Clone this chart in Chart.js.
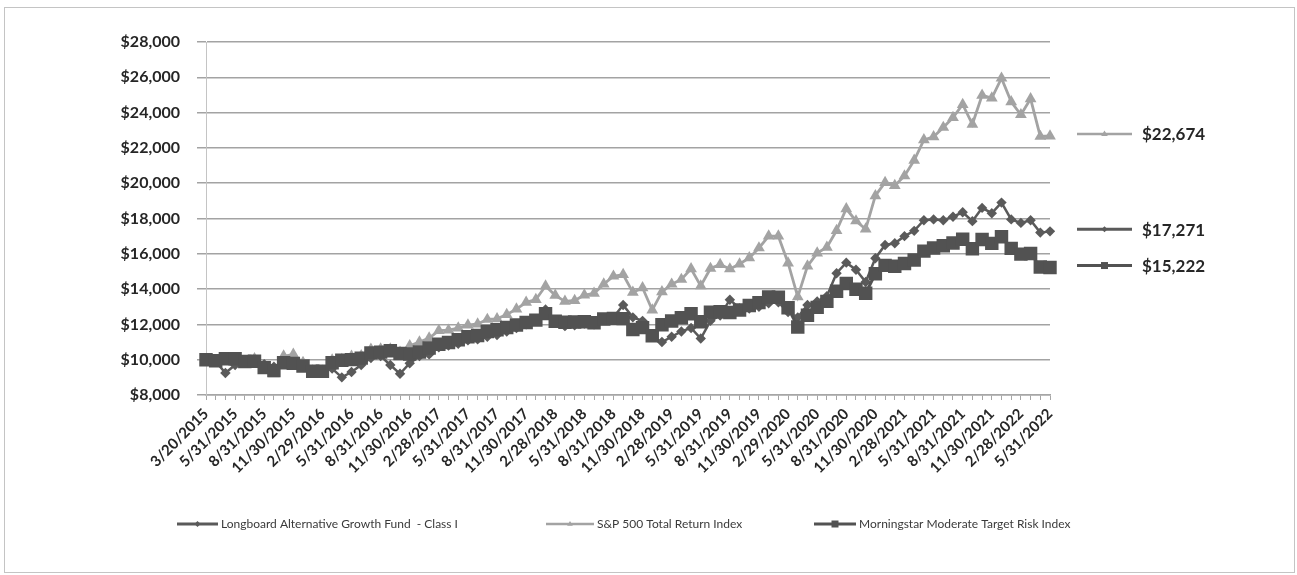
<!DOCTYPE html>
<html><head><meta charset="utf-8">
<script src="https://cdn.jsdelivr.net/npm/chart.js@4.4.1/dist/chart.umd.min.js"></script>
<style>
html,body{margin:0;padding:0;background:#fff;}
#wrap{position:relative;width:1297px;height:575px;overflow:hidden;}
#frame{position:absolute;left:4px;top:7px;width:1291px;height:566px;border:1px solid #c4c4c4;box-sizing:border-box;}
#c{position:absolute;left:0;top:0;}
</style></head><body>
<div id="wrap"><div id="frame"></div><canvas id="c" width="1297" height="575"></canvas></div>
<script>
const categories = [
"3/20/2015","3/31/2015","4/30/2015","5/31/2015","6/30/2015","7/31/2015","8/31/2015","9/30/2015","10/31/2015","11/30/2015","12/31/2015",
"1/31/2016","2/29/2016","3/31/2016","4/30/2016","5/31/2016","6/30/2016","7/31/2016","8/31/2016","9/30/2016","10/31/2016","11/30/2016","12/31/2016",
"1/31/2017","2/28/2017","3/31/2017","4/30/2017","5/31/2017","6/30/2017","7/31/2017","8/31/2017","9/30/2017","10/31/2017","11/30/2017","12/31/2017",
"1/31/2018","2/28/2018","3/31/2018","4/30/2018","5/31/2018","6/30/2018","7/31/2018","8/31/2018","9/30/2018","10/31/2018","11/30/2018","12/31/2018",
"1/31/2019","2/28/2019","3/31/2019","4/30/2019","5/31/2019","6/30/2019","7/31/2019","8/31/2019","9/30/2019","10/31/2019","11/30/2019","12/31/2019",
"1/31/2020","2/29/2020","3/31/2020","4/30/2020","5/31/2020","6/30/2020","7/31/2020","8/31/2020","9/30/2020","10/31/2020","11/30/2020","12/31/2020",
"1/31/2021","2/28/2021","3/31/2021","4/30/2021","5/31/2021","6/30/2021","7/31/2021","8/31/2021","9/30/2021","10/31/2021","11/30/2021","12/31/2021",
"1/31/2022","2/28/2022","3/31/2022","4/30/2022","5/31/2022"
];

const seriesNames = [
"Longboard Alternative Growth Fund  - Class I",
"S&P 500 Total Return Index",
"Morningstar Moderate Target Risk Index"
];

const longboardValues = [
10000,9900,9250,9700,9850,10000,9750,9600,9900,10000,9700,
9400,9350,9500,9000,9300,9700,10100,10200,9700,9200,9800,10200,
10300,10700,10800,10900,11100,11150,11300,11400,11600,11800,12000,12200,
12850,12100,11900,11950,12050,12000,12300,12400,13100,12400,12200,11300,
11000,11300,11600,11800,11200,12200,12500,13400,12900,12900,13000,13200,
13250,12700,12400,13100,13300,13600,14900,15500,15100,14400,15750,16500,
16600,17000,17300,17900,17950,17900,18100,18350,17850,18600,18300,18900,
17950,17750,17900,17200,17271
];

const sp500Values = [
10000,9810,9910,10030,9835,10050,9430,9200,10200,10300,9842,
9360,9340,9977,10012,10187,10216,10592,10598,10604,10418,10787,11004,
11222,11652,11670,11795,11957,12023,12280,12313,12560,12863,13253,13408,
14174,13648,13305,13353,13666,13758,14281,14731,14819,13817,14075,12809,
13840,14277,14546,15149,14178,15170,15395,15143,15421,15767,16331,17000,
17000,15480,13560,15300,16040,16370,17320,18550,17860,17400,19290,20040,
19860,20410,21300,22460,22630,23160,23720,24460,23340,24980,24820,25950,
24610,23880,24780,22650,22674
];

const morningstarValues = [
10000,9943,10056,10049,9901,9915,9551,9382,9826,9790,9646,
9349,9343,9823,9964,10006,10089,10387,10430,10506,10352,10324,10440,
10664,10880,10971,11128,11299,11369,11600,11697,11825,11967,12111,12244,
12611,12183,12121,12134,12146,12097,12303,12340,12327,11711,11816,11356,
11981,12196,12379,12602,12148,12695,12720,12669,12821,13066,13235,13552,
13539,12943,11850,12515,12966,13303,13875,14319,13989,13765,14867,15343,
15297,15450,15651,16152,16329,16460,16608,16824,16286,16807,16589,16971,
16309,15983,16015,15250,15222
];

const endLabels = ["$17,271", "$22,674", "$15,222"];
const yTicks = { min: 8000, max: 28000, step: 2000 };

const colors = ['#5a5a5a', '#a3a3a3', '#525252'];
const styles = ['rectRot', 'triangle', 'rect'];
const radii = [5.2, 6.8, 9.5];
const lineW = [2.5, 2.8, 3];
const allValues = [longboardValues, sp500Values, morningstarValues];

function drawMarker(ctx, style, x, y, r, color) {
  ctx.save();
  ctx.fillStyle = color;
  ctx.beginPath();
  if (style === 'rect') {
    ctx.rect(x - r, y - r, 2 * r, 2 * r);
  } else if (style === 'rectRot') {
    ctx.moveTo(x, y - r); ctx.lineTo(x + r, y); ctx.lineTo(x, y + r); ctx.lineTo(x - r, y); ctx.closePath();
  } else {
    ctx.moveTo(x, y - r); ctx.lineTo(x + r * 0.95, y + r * 0.6); ctx.lineTo(x - r * 0.95, y + r * 0.6); ctx.closePath();
  }
  ctx.fill();
  ctx.restore();
}

function drawSample(ctx, i, x1, x2, y, mr) {
  ctx.save();
  ctx.strokeStyle = colors[i];
  ctx.lineWidth = i === 1 ? 2.5 : 3;
  ctx.beginPath(); ctx.moveTo(x1, y); ctx.lineTo(x2, y); ctx.stroke();
  drawMarker(ctx, styles[i], (x1 + x2) / 2, y, mr[i], colors[i]);
  ctx.restore();
}

const extrasPlugin = {
  id: 'extras',
  afterDraw(chart) {
    const ctx = chart.ctx;
    const ys = chart.scales.y;
    const mr = [3, 3.5, 3.5];
    for (let i = 0; i < 3; i++) {
      const vals = allValues[i];
      const y = ys.getPixelForValue(vals[vals.length - 1]) - 2;
      drawSample(ctx, i, 1077, 1132, y, mr);
      ctx.save();
      ctx.fillStyle = '#262626';
      ctx.font = 'bold 17px Lato';
      ctx.textBaseline = 'middle';
      ctx.textAlign = 'left';
      ctx.fillText(endLabels[i], 1142, y + 1);
      ctx.restore();
    }
    const legendY = 524;
    const lx = [[177, 218, 221], [546, 594, 597], [814, 856, 859]];
    const lmr = [3, 3, 3.5];
    for (let i = 0; i < 3; i++) {
      drawSample(ctx, i, lx[i][0], lx[i][1], legendY, lmr);
      ctx.save();
      ctx.fillStyle = '#3a3a3a';
      ctx.font = '12px Lato';
      ctx.textBaseline = 'middle';
      ctx.textAlign = 'left';
      ctx.fillText(seriesNames[i], lx[i][2], legendY);
      ctx.restore();
    }
  }
};

const datasets = allValues.map((vals, i) => ({
  label: seriesNames[i],
  data: vals,
  borderColor: colors[i],
  backgroundColor: colors[i],
  pointBackgroundColor: colors[i],
  pointBorderColor: colors[i],
  pointBorderWidth: 0,
  pointStyle: styles[i],
  pointRadius: radii[i],
  borderWidth: lineW[i],
  tension: 0,
  fill: false,
  order: 3 - i
}));

new Chart(document.getElementById('c'), {
  type: 'line',
  data: { labels: categories, datasets },
  options: {
    responsive: false,
    animation: false,
    events: [],
    layout: { padding: { left: 0, right: 247, top: 42, bottom: 0 } },
    plugins: { legend: { display: false }, tooltip: { enabled: false } },
    scales: {
      x: {
        type: 'category',
        offset: false,
        afterFit(scale) { scale.height = 180; },
        grid: { display: true, drawOnChartArea: false, drawTicks: true, tickLength: 5, color: '#a6a6a6', lineWidth: 1 },
        border: { display: true, color: '#a6a6a6', width: 1.5 },
        ticks: {
          autoSkip: false,
          maxRotation: 45,
          minRotation: 45,
          padding: 5,
          color: '#262626',
          font: { family: 'Lato', size: 15, weight: 'bold' },
          callback(value, index) { return index % 3 === 0 ? categories[index] : ''; }
        }
      },
      y: {
        min: yTicks.min,
        max: yTicks.max,
        afterFit(scale) { scale.width = 206; },
        grid: { color: '#a3a3a3', lineWidth: 1.5, drawTicks: true, tickLength: 9 },
        border: { display: true, color: '#c4c4c4', width: 1 },
        ticks: {
          stepSize: yTicks.step,
          padding: 17,
          color: '#262626',
          font: { family: 'Lato', size: 16, weight: 'bold' },
          callback(v) { return '$' + Number(v).toLocaleString('en-US'); }
        }
      }
    }
  },
  plugins: [extrasPlugin]
});
</script>
</body></html>
